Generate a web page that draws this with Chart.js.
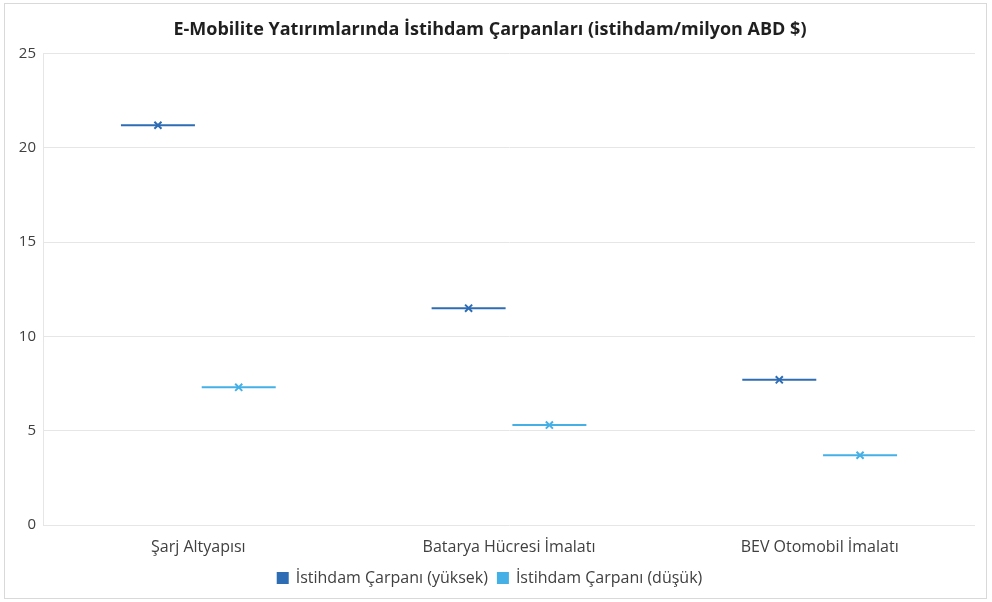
<!doctype html>
<html lang="tr">
  <head>
    <meta charset="utf-8">
    <title>E-Mobilite istihdam carpanlari</title>
    <style>
        *{
            box-sizing: border-box;
            margin:0;
            padding:0;
        }
        body{
            background-color:#ffffff;
            width:992px;
            height:602px;
            overflow:hidden;
        }
        .chartbox{
            position:absolute;
            left:4px;
            top:3px;
            width:983px;
            height:596px;
            border:1px solid #d9d9d9;
        }
    </style>
  </head>
  <body>
    <div class="chartbox">
        <canvas id="myChart"></canvas>
    </div>

    <script src="https://cdn.jsdelivr.net/npm/chart.js@4/dist/chart.umd.min.js"></script>
    <script>
// data
const categories = ['Şarj Altyapısı', 'Batarya Hücresi İmalatı', 'BEV Otomobil İmalatı'];
const highValues = [21.2, 11.5, 7.7];
const lowValues = [7.3, 5.3, 3.7];
const yTicks = [0, 5, 10, 15, 20, 25];
const seriesNames = ['İstihdam Çarpanı (yüksek)', 'İstihdam Çarpanı (düşük)'];

const highColor = '#2e6db4';
const lowColor = '#45b0e6';
const shift = 0.13; // half of a group slot, like the clustered columns

function points(values, dx) {
    return values.map((v, i) => ({ x: i + dx, y: v }));
}

function dash(label, values, dx, color) {
    return {
        label: label,
        data: points(values, dx),
        showLine: false,
        pointStyle: 'line',
        pointRadius: 37,
        borderWidth: 2,
        borderColor: color,
        backgroundColor: color
    };
}
function cross(values, dx, color) {
    return {
        label: '',
        data: points(values, dx),
        showLine: false,
        pointStyle: 'crossRot',
        pointRadius: 5,
        borderWidth: 2,
        borderColor: color,
        backgroundColor: color
    };
}

Chart.defaults.font.family = "'Open Sans', 'Noto Sans', sans-serif";
Chart.defaults.color = '#404040';

const ctx = document.getElementById('myChart').getContext('2d');
const myChart = new Chart(ctx, {
    type: 'scatter',
    data: {
        datasets: [
            dash(seriesNames[0], highValues, -shift, highColor),
            dash(seriesNames[1], lowValues, shift, lowColor),
            cross(highValues, -shift, highColor),
            cross(lowValues, shift, lowColor)
        ]
    },
    options: {
        responsive: true,
        maintainAspectRatio: false,
        animation: false,
        events: [],
        layout: {
            autoPadding: false,
            padding: { left: 0, right: 11, top: 0, bottom: 2 }
        },
        scales: {
            x: {
                type: 'linear',
                min: -0.5,
                max: categories.length - 0.5,
                afterBuildTicks: s => { s.ticks = categories.map((c, i) => ({ value: i })); },
                afterFit: s => { s.paddingLeft = 0; s.paddingRight = 0; s.height = 35; },
                ticks: {
                    callback: v => categories[v],
                    font: { size: 16 },
                    padding: 13,
                    maxRotation: 0
                },
                grid: { display: false, drawTicks: false },
                border: { display: false }
            },
            y: {
                min: 0,
                max: 25,
                afterBuildTicks: s => { s.ticks = yTicks.map(v => ({ value: v })); },
                afterFit: s => { s.width = 38; },
                ticks: {
                    font: { size: 15 },
                    padding: 7
                },
                grid: { color: '#e6e6e6', drawTicks: false },
                border: { display: true, color: '#e6e6e6' }
            }
        },
        plugins: {
            tooltip: { enabled: false },
            title: {
                display: true,
                text: 'E-Mobilite Yatırımlarında İstihdam Çarpanları (istihdam/milyon ABD $)',
                font: { size: 18, weight: 'bold' },
                color: '#1f1f1f',
                padding: { top: 15, bottom: 13 }
            },
            legend: {
                position: 'bottom',
                labels: {
                    filter: item => item.text !== '',
                    boxWidth: 10,
                    boxHeight: 10,
                    padding: 10,
                    font: { size: 16 }
                }
            }
        }
    }
});
    </script>
</body>
</html>
